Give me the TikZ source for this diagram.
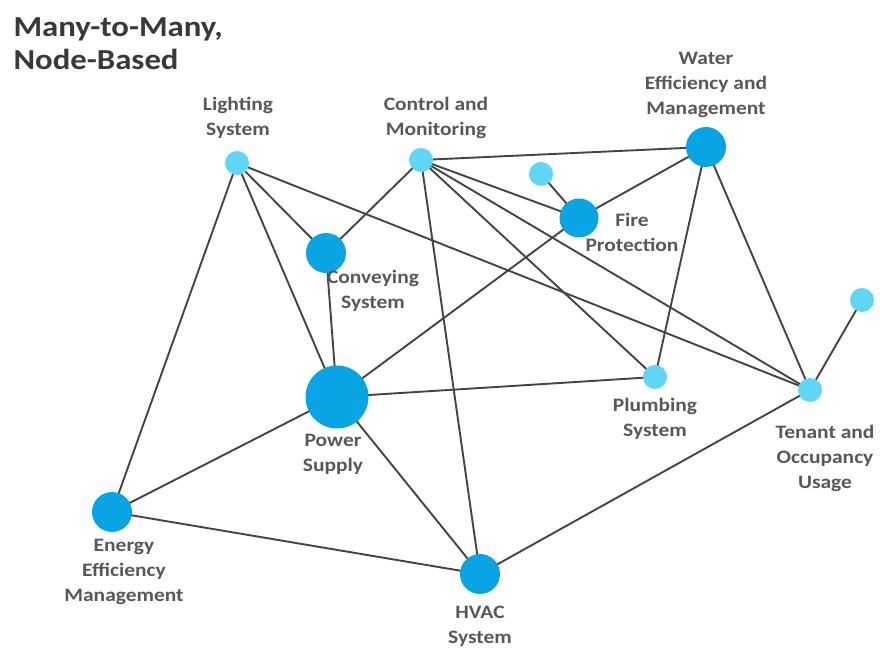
\documentclass[tikz,border=0pt]{standalone}
\usepackage{fontspec}
\setmainfont[FakeStretch=1.13]{Carlito}
\usetikzlibrary{backgrounds}

\definecolor{hubblue}{RGB}{8,164,228}
\definecolor{leafblue}{RGB}{96,214,246}
\definecolor{linkgray}{RGB}{68,68,68}
\definecolor{textgray}{RGB}{88,88,88}

\tikzset{
  hub/.style={circle, fill=hubblue, inner sep=0pt, minimum size=40pt},
  leaf/.style={circle, fill=leafblue, inner sep=0pt, minimum size=24pt},
  tag/.style={align=center, text=textgray, font=\fontsize{19}{25}\selectfont\bfseries},
  link/.style={draw=linkgray, line width=1.9pt}
}

\begin{document}
\begin{tikzpicture}[x=1pt, y=-1pt]
  \useasboundingbox (0,0) rectangle (880,652);
  % title
  \node[anchor=north west, align=left, text=textgray!65!black, font=\fontsize{29}{33}\selectfont\bfseries] (title) at (10,14) {Many-to-Many,\\Node-Based};

  % systems
  \node[leaf] (light) at (237,163) {};
  \node[leaf] (ctrl) at (421,160) {};
  \node[hub] (water) at (706,147) {};
  \node[leaf] (fireleaf) at (541,174) {};
  \node[hub, minimum size=39pt] (fire) at (579,218) {};
  \node[hub] (convey) at (326,253) {};
  \node[leaf] (tenleaf) at (862,300) {};
  \node[hub, minimum size=63pt] (power) at (337,397) {};
  \node[leaf] (plumb) at (655,377) {};
  \node[leaf] (tenant) at (810,390) {};
  \node[hub] (energy) at (112,512) {};
  \node[hub] (hvac) at (480,574) {};

  % labels
  \node[tag] (lightlab) at (238,118) {Lighting\\System};
  \node[tag] (ctrllab) at (436,118) {Control and\\Monitoring};
  \node[tag] (waterlab) at (706,85) {Water\\Efficiency and\\Management};
  \node[tag] (firelab) at (632,232) {Fire\\Protection};
  \node[tag] (conveylab) at (373,291) {Conveying\\System};
  \node[tag] (powerlab) at (333,454) {Power\\Supply};
  \node[tag] (plumblab) at (655,419) {Plumbing\\System};
  \node[tag] (tenantlab) at (825,458) {Tenant and\\Occupancy\\Usage};
  \node[tag] (energylab) at (124,572) {Energy\\Efficiency\\Management};
  \node[tag] (hvaclab) at (480,626) {HVAC\\System};

  % links
  \begin{pgfonlayer}{background}
    \foreach \a/\b in {light/energy, light/power, light/convey, light/tenant,
                       ctrl/convey, ctrl/water, ctrl/fire, ctrl/hvac, ctrl/plumb, ctrl/tenant,
                       water/fire, water/plumb, water/tenant,
                       fire/fireleaf, fire/power, tenleaf/tenant,
                       convey/power, power/plumb, power/energy, power/hvac,
                       energy/hvac, hvac/tenant}
      \draw[link] (\a.center) -- (\b.center);
  \end{pgfonlayer}
\end{tikzpicture}
\end{document}
